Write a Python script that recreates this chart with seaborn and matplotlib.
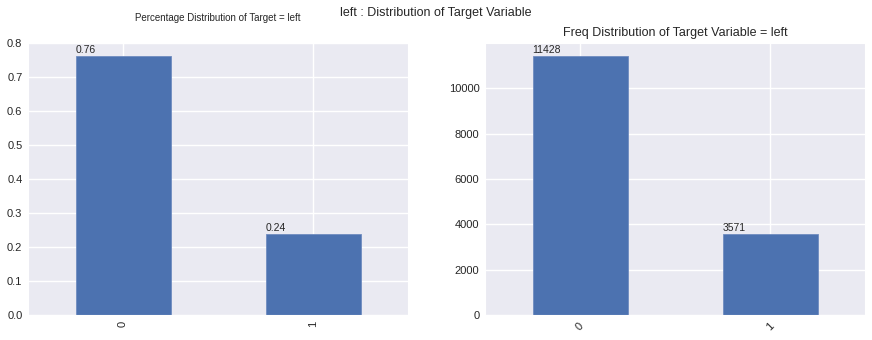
import matplotlib
matplotlib.use("Agg")
import matplotlib.pyplot as plt
import seaborn as sns
import pandas as pd

# Class labels of the target column "left" and their shares / counts
target_classes = ["0", "1"]
class_share = [0.7619, 0.2381]
class_count = [11428, 3571]

sns.set_style("darkgrid")
plt.rcParams["font.family"] = ["Liberation Sans", "DejaVu Sans"]

bar_color = "#4C72B0"
edge_color = "#6F8CC0"

fig = plt.figure(figsize=(8.72, 3.4), dpi=100)
ax1 = fig.add_axes([28 / 872, 25 / 340, 380 / 872, 272 / 340])
ax2 = fig.add_axes([485 / 872, 25 / 340, 380 / 872, 272 / 340])

share_df = pd.DataFrame({"left": target_classes, "share": class_share})
count_df = pd.DataFrame({"left": target_classes, "count": class_count})

sns.barplot(data=share_df, x="left", y="share", ax=ax1, color=bar_color,
            saturation=1, width=0.5, edgecolor=edge_color, linewidth=0.6)
sns.barplot(data=count_df, x="left", y="count", ax=ax2, color=bar_color,
            saturation=1, width=0.5, edgecolor=edge_color, linewidth=0.6)

for ax in (ax1, ax2):
    ax.set_xlim(-0.5, 1.5)
    ax.set_xlabel("")
    ax.set_ylabel("")
    ax.grid(True, axis="both", color="white", linewidth=1)
    ax.set_axisbelow(True)
    ax.tick_params(axis="both", labelsize=8, colors="#262626", length=0, pad=4)

ax1.set_ylim(0, 0.8)
ax1.set_yticks([0.0, 0.1, 0.2, 0.3, 0.4, 0.5, 0.6, 0.7, 0.8])
ax1.set_yticklabels(["0.0", "0.1", "0.2", "0.3", "0.4", "0.5", "0.6", "0.7", "0.8"])
ax2.set_ylim(0, max(class_count) * 1.05)
ax2.set_yticks([0, 2000, 4000, 6000, 8000, 10000])

for lab in ax1.get_xticklabels():
    lab.set_rotation(90)
for lab in ax2.get_xticklabels():
    lab.set_rotation(45)

# value labels on top-left corner of each bar
for p, v in zip(ax1.patches, class_share):
    ax1.annotate(f"{v:.2f}", (p.get_x(), p.get_height()), xytext=(0, 2),
                 textcoords="offset points", fontsize=7.5, color="#262626")
for p, v in zip(ax2.patches, class_count):
    ax2.annotate(f"{v}", (p.get_x(), p.get_height()), xytext=(0, 2),
                 textcoords="offset points", fontsize=7.5, color="#262626")

ax1.set_title("Percentage Distribution of Target = left", fontsize=7, color="#262626", pad=16)
ax2.set_title("Freq Distribution of Target Variable = left", fontsize=9, color="#262626", pad=5)
fig.suptitle("left : Distribution of Target Variable", fontsize=9, color="#262626", y=0.98)

fig.savefig("out.png", dpi=100)
